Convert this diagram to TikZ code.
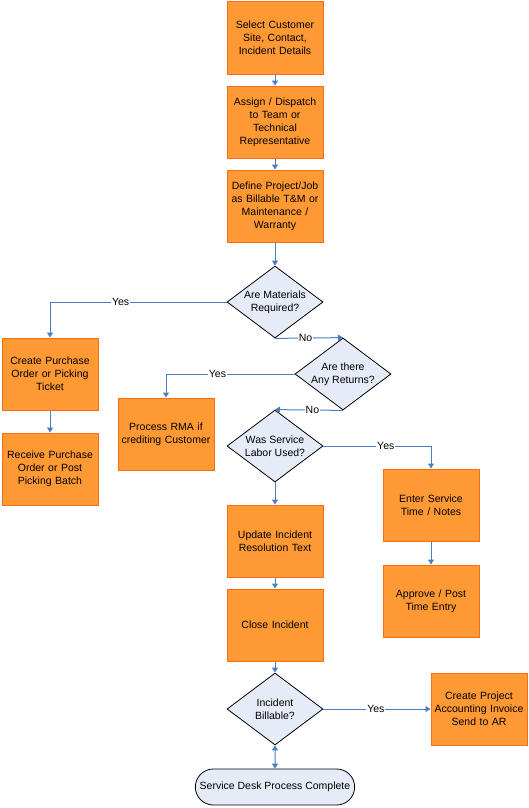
\documentclass[tikz,border=0pt]{standalone}
\usepackage{fontspec}
\setmainfont{Liberation Sans}
\usetikzlibrary{shapes.geometric,shapes.misc,arrows.meta}
\definecolor{boxfill}{RGB}{255,153,51}
\definecolor{boxline}{RGB}{247,110,20}
\definecolor{askfill}{RGB}{230,236,247}
\definecolor{flowline}{RGB}{74,126,193}
\begin{document}
\begin{tikzpicture}[x=1pt,y=-1pt,
  font=\fontsize{10.5}{13}\selectfont,
  task/.style={rectangle, fill=boxfill, draw=boxline, line width=1pt, minimum width=96pt, minimum height=72pt, text width=92pt, inner sep=1pt, align=center},
  ask/.style={diamond, fill=askfill, draw=black, line width=0.8pt, minimum width=96pt, minimum height=72pt, inner sep=-10pt, align=center},
  flow/.style={draw=flowline, line width=1pt, -{Triangle[length=5pt,width=6pt]}},
  lbl/.style={fill=white, inner sep=1pt}]
  \useasboundingbox (0,0) rectangle (529,808);

  \node[task] (sel) at (275,38) {Select Customer\\Site, Contact,\\Incident Details};
  \node[task] (asg) at (275,122) {Assign / Dispatch\\to Team or\\Technical\\Representative};
  \node[task] (def) at (275,206) {Define Project/Job\\as Billable T\&M or\\Maintenance /\\Warranty};
  \node[ask] (mat) at (275,302) {Are Materials\\Required?};

  \node[task] (po) at (50,374) {Create Purchase\\Order or Picking\\Ticket};
  \node[task] (rcv) at (50,469) {Receive Purchase\\Order or Post\\Picking Batch};

  \node[ask] (ret) at (343,374) {Are there\\Any Returns?};
  \node[task] (rma) at (166,434) {Process RMA if\\crediting Customer};

  \node[ask] (lab) at (275,446) {Was Service\\Labor Used?};
  \node[task] (ent) at (431,505) {Enter Service\\Time / Notes};
  \node[task] (apr) at (431,601) {Approve / Post\\Time Entry};

  \node[task] (upd) at (275,541) {Update Incident\\Resolution Text};
  \node[task] (cls) at (275,625) {Close Incident};
  \node[ask] (bil) at (275,709) {Incident\\Billable?};
  \node[task] (inv) at (479,709) {Create Project\\Accounting Invoice\\Send to AR};

  \node[rounded rectangle, fill=askfill, draw=black, line width=0.8pt, minimum width=166pt, minimum height=36pt] (done) at (275,787) {Service Desk Process Complete};

  \draw[flow] (sel) -- (asg);
  \draw[flow] (asg) -- (def);
  \draw[flow] (def) -- (mat);
  \draw[flow] (mat.west) -| node[lbl,pos=0.3] {Yes} (po.north);
  \draw[flow] (po) -- (rcv);
  \draw[flow] (mat.south) -- node[lbl,pos=0.45] {No} (ret.north);
  \draw[flow] (ret.west) -| node[lbl,pos=0.3] {Yes} (rma.north);
  \draw[flow] (ret.south) -- node[lbl,pos=0.45] {No} (lab.north);
  \draw[flow] (lab.east) -| node[lbl,pos=0.29] {Yes} (ent.north);
  \draw[flow] (ent) -- (apr);
  \draw[flow] (lab) -- (upd);
  \draw[flow] (upd) -- (cls);
  \draw[flow] (cls) -- (bil);
  \draw[flow] (bil) -- node[lbl,pos=0.49] {Yes} (inv);
  \draw[flow, {Triangle[length=5pt,width=6pt]}-{Triangle[length=5pt,width=6pt]}] (bil) -- (done);
\end{tikzpicture}
\end{document}
